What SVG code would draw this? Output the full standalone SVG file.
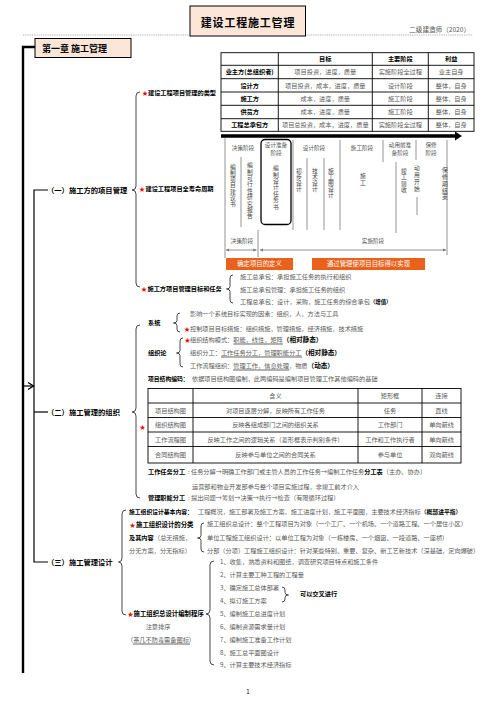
<svg xmlns="http://www.w3.org/2000/svg" width="496" height="702" viewBox="0 0 496 702">
<style>
text{font-family:"Noto Sans CJK SC","Noto Sans",sans-serif}
.g{font-size:6.2px;fill:#5a5a5a}
.b{font-size:6.2px;font-weight:bold;fill:#000}
.h{font-size:7.3px;font-weight:bold;fill:#000}
.s{fill:#e01010;font-size:6px}
.v{font-size:5.6px;fill:#555;text-anchor:middle}
.vt{font-size:5.8px;fill:#444;writing-mode:vertical-rl}
.c{text-anchor:middle}
.br{fill:none;stroke:#333;stroke-width:0.9}
.tb{stroke:#000;stroke-width:0.9;fill:none}
.lc{stroke:#888;stroke-width:0.9}
.u{stroke:#222;stroke-width:0.7}
.box{fill:#fbe6d8;stroke:#000;stroke-width:1}
.or{fill:#e8621e}
.ot{font-size:6.4px;fill:#fff;text-anchor:middle}
</style>
<defs>
<marker id="ah" viewBox="0 0 6 6" refX="6" refY="3" markerWidth="4" markerHeight="4" orient="auto-start-reverse"><path d="M0,0 L6,3 L0,6 z" fill="#777"/></marker>
</defs>
<rect width="496" height="702" fill="#fff"/>

<g id="header">
<line x1="23" y1="35" x2="473" y2="35" stroke="#999" stroke-width="0.8" stroke-dasharray="1,0.8"/>
<rect class="box" x="190" y="6" width="115.5" height="30"/>
<text x="248" y="27" class="c" style="font-size:11px;font-weight:bold;letter-spacing:0.8px">建设工程施工管理</text>
<text x="470" y="31.5" style="font-size:6.6px;fill:#555;text-anchor:end">二级建造师（2020）</text>
</g>

<g id="connectors">
<polyline points="35,47 23,47 23,673" fill="none" stroke="#000" stroke-width="2.4"/>
<line x1="23" y1="386" x2="33" y2="386" stroke="#000" stroke-width="1.2"/>
<path d="M28,382.5 L33.5,386 L28,389.5" fill="none" stroke="#000" stroke-width="1.3"/>
<polyline points="48,190 34,190 34,562 48,562" fill="none" stroke="#000" stroke-width="1.2"/>
<line x1="34" y1="412" x2="48" y2="412" stroke="#000" stroke-width="1.2"/>
<path class="br" d="M140,92 Q136,92 136,96 L136,186 Q136,190 132,190 Q136,190 136,194 L136,283 Q136,287 140,287"/>
<path class="br" d="M140,325 Q136,325 136,329 L136,408 Q136,412 132,412 Q136,412 136,416 L136,494 Q136,498 140,498"/>
<path class="br" d="M126,510 Q122,510 122,514 L122,558 Q122,562 118.5,562 Q122,562 122,566 L122,611 Q122,615 126,615"/>
<path class="br" d="M233,275 Q230,275 230,278 L230,286.5 Q230,289 226.5,289 Q230,289 230,291.5 L230,300 Q230,303 233,303"/>
<path class="br" d="M180,313 Q177,313 177,316 L177,320.5 Q177,323 173.5,323 Q177,323 177,325.5 L177,329 Q177,332 180,332"/>
<path class="br" d="M183,338 Q180,338 180,341 L180,350.5 Q180,353 176.5,353 Q180,353 180,355.5 L180,364 Q180,367 183,367"/>
<path class="br" d="M204,523 Q201,523 201,526 L201,535.5 Q201,538 197.5,538 Q201,538 201,540.5 L201,549 Q201,552 204,552"/>
<path class="br" d="M214,561 Q210,561 210,565 L210,610 Q210,614 206,614 Q210,614 210,618 L210,661 Q210,665 214,665"/>
<path class="br" d="M282,587 Q285,587 285,590 L285,592.5 Q285,595 288.5,595 Q285,595 285,597.5 L285,599 Q285,602 282,602"/>
</g>

<g id="chapter">
<rect class="box" x="35" y="38.5" width="96" height="19"/>
<text x="42" y="52" style="font-size:9px;font-weight:bold">第一章  施工管理</text>
</g>

<g id="sec1"><text class="h" x="47" y="192.6">（一）施工方的项目管理</text></g>
<g id="sec2"><text class="h" x="47" y="414.6">（二）施工管理的组织</text></g>
<g id="sec3"><text class="h" x="47" y="564.6">（三）施工管理设计</text></g>

<g id="types-label"><text class="s" x="142" y="94.5">★</text><text class="b" x="148" y="94.5">建设工程项目管理的类型</text></g>
<g id="lifecycle-label"><text class="s" x="139" y="190.5">★</text><text class="b" x="145.5" y="190.5">建设工程项目全寿命周期</text></g>
<g id="tasks-label"><text class="s" x="141" y="291.3">★</text><text class="b" x="147.5" y="291.3">施工方项目管理目标和任务</text></g>

<g id="table-types">
<rect class="tb" x="221" y="52.7" width="253" height="78.6"/>
<path class="tb" d="M221,65.3H474M221,78.7H474M221,92H474M221,105.3H474M221,118.7H474M278.3,52.7V131.3M372.3,52.7V131.3M428.3,52.7V131.3"/>
<text class="b c" x="325.3" y="61.2">目标</text>
<text class="b c" x="400.3" y="61.2">主要阶段</text>
<text class="b c" x="451.2" y="61.2">利益</text>
<text class="b c" x="249.7" y="74.2">业主方(总组织者)</text>
<text class="b c" x="249.7" y="87.5">设计方</text>
<text class="b c" x="249.7" y="100.9">施工方</text>
<text class="b c" x="249.7" y="114.2">供货方</text>
<text class="b c" x="249.7" y="127.2">工程总承包方</text>
<text class="g c" x="325.3" y="74.2">项目投资，进度，质量</text>
<text class="g c" x="325.3" y="87.5">项目投资，成本，进度，质量</text>
<text class="g c" x="325.3" y="100.9">成本，进度，质量</text>
<text class="g c" x="325.3" y="114.2">成本，进度，质量</text>
<text class="g c" x="325.3" y="127.2">项目总投资，成本，进度，质量</text>
<text class="g c" x="400.3" y="74.2">实施阶段全过程</text>
<text class="g c" x="400.3" y="87.5">设计阶段</text>
<text class="g c" x="400.3" y="100.9">施工阶段</text>
<text class="g c" x="400.3" y="114.2">施工阶段</text>
<text class="g c" x="400.3" y="127.2">实施阶段全过程</text>
<text class="g c" x="451.2" y="74.2">业主自身</text>
<text class="g c" x="451.2" y="87.5">整体，自身</text>
<text class="g c" x="451.2" y="100.9">整体，自身</text>
<text class="g c" x="451.2" y="114.2">整体，自身</text>
<text class="g c" x="451.2" y="127.2">整体，自身</text>
</g>

<g id="lifecycle-chart">
<line x1="221" y1="136" x2="456" y2="136" stroke="#000" stroke-width="3.5"/>
<polygon points="455,131.5 462,136 455,140.5" fill="#000"/>
<path class="lc" d="M225,138V258M293,140V230M340,140V230M383,140V162M416,140V160M447,140V255M241,157V227M307,158V230M324,158V230M396,162V233M417,197V215M258,230V257"/>
<rect x="261" y="139.5" width="30" height="85" rx="4" fill="none" stroke="#000" stroke-width="1.3"/>
<text class="v" x="243" y="150">决策阶段</text>
<text class="v" x="276" y="147">设计准备</text><text class="v" x="276" y="155">阶段</text>
<text class="v" x="314" y="150">设计阶段</text>
<text class="v" x="362" y="150">施工阶段</text>
<text class="v" x="400" y="147">动用前准</text><text class="v" x="400" y="155">备阶段</text>
<text class="v" x="431" y="147">保修</text><text class="v" x="431" y="155">阶段</text>
<text class="vt" x="233" y="164" style="letter-spacing:0.3px">编制项目建议书</text>
<text class="vt" x="250" y="162" style="letter-spacing:0.6px">编制可行性研究报告</text>
<text class="vt" x="276" y="165" style="letter-spacing:0.6px">编制设计任务书</text>
<text class="vt" x="299" y="168" style="letter-spacing:0.2px">初步设计</text>
<text class="vt" x="315" y="168" style="letter-spacing:0.2px">技术设计</text>
<text class="vt" x="331" y="168" style="letter-spacing:0.2px">施工图设计</text>
<text class="vt" x="363" y="173" style="letter-spacing:1px">施工</text>
<text class="vt" x="404" y="168" style="letter-spacing:0.4px">竣工验收</text>
<text class="vt" x="417" y="165" style="letter-spacing:1px">动用开始</text>
<text class="vt" x="445" y="167" style="letter-spacing:1px">保修期结束</text>
<text class="v" x="242" y="243">决策阶段</text>
<text class="v" x="373" y="243">实施阶段</text>
<line x1="226" y1="250" x2="256.5" y2="250" stroke="#777" stroke-width="0.8" marker-start="url(#ah)" marker-end="url(#ah)"/>
<line x1="260" y1="250" x2="446" y2="250" stroke="#777" stroke-width="0.8" marker-start="url(#ah)" marker-end="url(#ah)"/>
<rect class="or" x="226" y="258" width="67" height="12"/>
<text class="ot" x="259.5" y="266.3">确定项目的定义</text>
<rect class="or" x="312" y="258" width="113" height="12"/>
<text class="ot" x="368.5" y="266.3">通过管理使项目目标得以实现</text>
</g>

<g id="tasks">
<text class="g" x="240" y="279.2">施工总承包：承担施工任务的执行和组织</text>
<text class="g" x="240" y="291.5">施工总承包管理：承担施工任务的组织</text>
<text class="g" x="240" y="304.2">工程总承包：设计，采购，施工任务的综合承包<tspan class="b" style="font-size:5.4px">（增值）</tspan></text>
</g>

<g id="system">
<text class="b" x="148" y="325.3">系统</text>
<text class="g" x="190" y="316.3">影响一个系统目标实现的因素：组织，人，方法与工具</text>
<text class="s" x="184" y="330.5">★</text>
<text class="g" x="190" y="330.5">控制项目目标措施：组织措施，管理措施，经济措施，技术措施</text>
</g>

<g id="org-theory">
<text class="b" x="148" y="355.3">组织论</text>
<text class="s" x="184.5" y="342.3">★</text>
<text class="g" x="190" y="342.3">组织结构模式：职能，线性，矩阵<tspan class="b" style="font-size:6.6px">（相对静态）</tspan></text>
<line class="u" x1="233.4" y1="344" x2="283" y2="344"/>
<text class="g" x="190" y="355.3">组织分工：工作任务分工，管理职能分工<tspan class="b" style="font-size:6.6px">（相对静态）</tspan></text>
<line class="u" x1="221" y1="357" x2="302" y2="357"/>
<text class="g" x="190" y="368.3">工作流程组织：管理工作，信息处理，物质<tspan class="b" style="font-size:6.6px">（动态）</tspan></text>
<line class="u" x1="233" y1="370" x2="289.5" y2="370"/>
</g>

<g id="coding">
<text x="148" y="381.2"><tspan class="b" style="font-size:5.8px">项目结构编码：</tspan><tspan class="g" x="192">依据项目结构图编制，此两编码是编制项目管理工作其他编码的基础</tspan></text>
</g>

<g id="table-charts">
<text class="s" x="139.5" y="429.3">★</text>
<rect class="tb" x="148" y="388.5" width="313" height="74.5"/>
<path class="tb" d="M148,403H461M148,417.5H461M148,432H461M148,446.5H461M193,388.5V463M358,388.5V463M422,388.5V463"/>
<text class="g c" x="275.5" y="398">含义</text>
<text class="g c" x="390" y="398">矩形框</text>
<text class="g c" x="441.5" y="398">连接</text>
<text class="g c" x="170.5" y="412.5">项目结构图</text>
<text class="g c" x="170.5" y="427">组织结构图</text>
<text class="g c" x="170.5" y="441.5">工作流程图</text>
<text class="g c" x="170.5" y="457">合同结构图</text>
<text class="g c" x="275.5" y="412.5">对项目逐层分解，反映所有工作任务</text>
<text class="g c" x="275.5" y="427">反映各组成部门之间的组织关系</text>
<text class="g c" x="275.5" y="441.5">反映工作之间的逻辑关系（菱形框表示判别条件）</text>
<text class="g c" x="275.5" y="457">反映参与单位之间的合同关系</text>
<text class="g c" x="390" y="412.5">任务</text>
<text class="g c" x="390" y="427">工作部门</text>
<text class="g c" x="390" y="441.5">工作和工作执行者</text>
<text class="g c" x="390" y="457">参与单位</text>
<text class="g c" x="441.5" y="412.5">直线</text>
<text class="g c" x="441.5" y="427">单向箭线</text>
<text class="g c" x="441.5" y="441.5">单向箭线</text>
<text class="g c" x="441.5" y="457">双向箭线</text>
</g>

<g id="task-division">
<text x="148" y="474.3"><tspan class="b">工作任务分工</tspan><tspan class="g" x="188">:</tspan><tspan class="g" x="191">任务分解→明确工作部门或主管人员的工作任务→编制工作任务</tspan><tspan class="b">分工表</tspan><tspan class="g">（主办、协办）</tspan></text>
<text class="g" x="192" y="489.3">运营部和物业开发部参与整个项目实施过程，非竣工前才介入</text>
</g>

<g id="function-division">
<text x="148" y="500.3"><tspan class="b">管理职能分工</tspan><tspan class="g" x="188">:</tspan><tspan class="g" x="191">提出问题→筹划→决策→执行→检查（有限循环过程）</tspan></text>
</g>

<g id="design-content">
<text x="129" y="514.2"><tspan class="b" style="font-size:5.8px">施工组织设计基本内容：</tspan><tspan class="g" x="198">工程概况，施工部署及施工方案，施工进度计划，施工平面图，主要技术经济指标</tspan><tspan class="b" style="font-size:5.8px">（概部进平指）</tspan></text>
</g>

<g id="design-classes">
<text class="s" x="129.5" y="527.2">★</text>
<text class="b" x="136" y="527.2" style="font-size:6.4px">施工组织设计的分类</text>
<text x="129" y="540.2"><tspan class="b" style="font-size:6.2px">及其内容</tspan><tspan class="g" x="154">（总无措施，</tspan></text>
<text class="g" x="129" y="553">分无方案，分无指标）</text>
<text class="g" x="207" y="526.2">施工组织总设计：整个工程项目为对象（一个工厂、一个机场、一个道路工程、一个居住小区）</text>
<text class="g" x="207" y="540.2">单位工程施工组织设计：以单位工程为对象（一栋楼房、一个烟囱、一段道路、一座桥）</text>
<text class="g" x="207" y="553.2">分部（分项）工程施工组织设计：针对某些特别、重要、复杂、新工艺新技术（深基础，定向爆破）</text>
</g>

<g id="procedure">
<text class="s" x="127.5" y="616.3">★</text>
<text class="b" x="133.5" y="616.3" style="font-size:6.4px">施工组织总设计编制程序</text>
<text class="g c" x="158" y="629">注意排序</text>
<text class="g c" x="161" y="642">（茶几不防毒需备图标）</text>
<line class="u" x1="133" y1="644" x2="190" y2="644"/>
<text class="g" x="220" y="564.2">1、收集，熟悉资料和图纸，调查研究项目特点和施工条件</text>
<text class="g" x="220" y="577.2">2、计算主要工种工程的工程量</text>
<text class="g" x="220" y="590.2">3、确定施工总体部署</text>
<text class="g" x="220" y="603.2">4、拟订施工方案</text>
<text class="g" x="220" y="616.2">5、编制施工总进度计划</text>
<text class="g" x="220" y="629.2">6、编制资源需求量计划</text>
<text class="g" x="220" y="642.2">7、编制施工准备工作计划</text>
<text class="g" x="220" y="655.2">8、施工总平面图设计</text>
<text class="g" x="220" y="667.2">9、计算主要技术经济指标</text>
<text class="b" x="300" y="596.3">可以交叉进行</text>
</g>

<g id="page"><text x="248" y="694" class="c" style="font-size:6px;fill:#000">1</text></g>
</svg>
